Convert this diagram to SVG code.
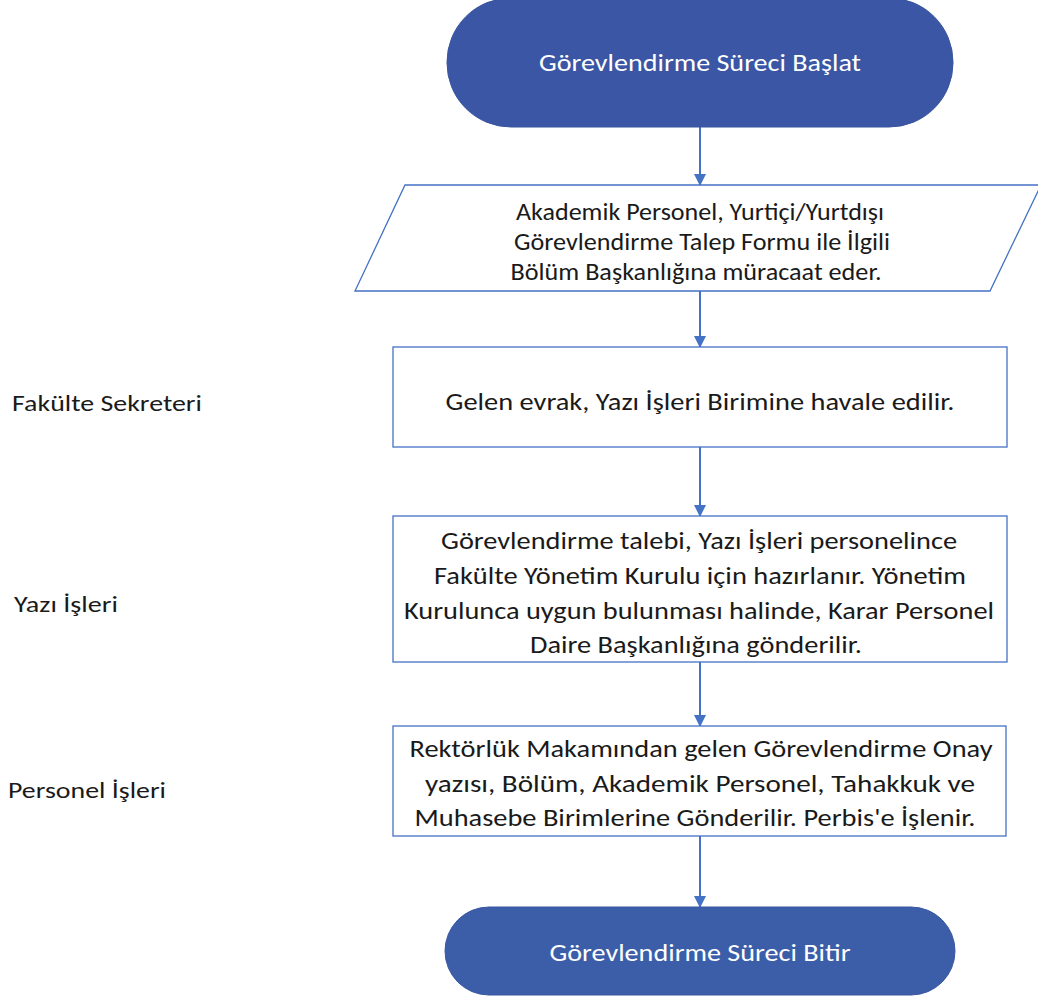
<svg xmlns="http://www.w3.org/2000/svg" width="1038" height="1001" viewBox="0 0 1038 1001">
  <defs>
    <marker id="ah" markerWidth="12" markerHeight="12" refX="11" refY="6" orient="auto" markerUnits="userSpaceOnUse">
      <path d="M0,0 L12,6 L0,12 Z" fill="#4472C4"/>
    </marker>
  </defs>
  <style>
    .term { stroke: #3A55A0; stroke-width: 1; }
    .box { fill: #FFFFFF; stroke: #4472C4; stroke-width: 1.3; }
    .t { font-family: "Carlito", "Lato", "Liberation Sans", sans-serif; font-size: 24px; fill: #1A1A1A; text-anchor: middle; dominant-baseline: central; }
    .tw { fill: #FFFFFF; }
    .lbl { font-family: "Carlito", "Lato", "Liberation Sans", sans-serif; font-size: 23px; fill: #1A1A1A; dominant-baseline: central; }
    .conn { stroke: #4472C4; stroke-width: 2; fill: none; marker-end: url(#ah); }
  </style>
  <rect width="1038" height="1001" fill="#FFFFFF"/>

  <g id="lane-labels">
    <text class="lbl" x="12" y="403" textLength="190" lengthAdjust="spacingAndGlyphs">Fakülte Sekreteri</text>
    <text class="lbl" x="14" y="604" textLength="104" lengthAdjust="spacingAndGlyphs">Yazı İşleri</text>
    <text class="lbl" x="8" y="790" textLength="158" lengthAdjust="spacingAndGlyphs">Personel İşleri</text>
  </g>

  <g id="connectors">
    <line class="conn" x1="700" y1="127" x2="700" y2="185"/>
    <line class="conn" x1="700" y1="291" x2="700" y2="347"/>
    <line class="conn" x1="700" y1="447" x2="700" y2="516"/>
    <line class="conn" x1="700" y1="662" x2="700" y2="726"/>
    <line class="conn" x1="700" y1="836" x2="700" y2="907"/>
  </g>

  <g id="start">
    <rect class="term" x="447" y="-2" width="506" height="129" rx="64" ry="64" fill="#3A56A4"/>
    <text class="t tw" x="700" y="62" textLength="322" lengthAdjust="spacingAndGlyphs">Görevlendirme Süreci Başlat</text>
  </g>

  <g id="input">
    <polygon class="box" points="405,185 1041,185 990,291 355,291"/>
    <text class="t" x="700" y="211" textLength="368" lengthAdjust="spacingAndGlyphs">Akademik Personel, Yurtiçi/Yurtdışı</text>
    <text class="t" x="702" y="241" textLength="376" lengthAdjust="spacingAndGlyphs">Görevlendirme Talep Formu ile İlgili</text>
    <text class="t" x="696" y="271" textLength="371" lengthAdjust="spacingAndGlyphs">Bölüm Başkanlığına müracaat eder.</text>
  </g>

  <g id="step1">
    <rect class="box" x="393" y="347" width="614" height="100"/>
    <text class="t" x="700" y="401" textLength="509" lengthAdjust="spacingAndGlyphs">Gelen evrak, Yazı İşleri Birimine havale edilir.</text>
  </g>

  <g id="step2">
    <rect class="box" x="393" y="516" width="614" height="146"/>
    <text class="t" x="699" y="540" textLength="516" lengthAdjust="spacingAndGlyphs">Görevlendirme talebi, Yazı İşleri personelince</text>
    <text class="t" x="700" y="575" textLength="532" lengthAdjust="spacingAndGlyphs">Fakülte Yönetim Kurulu için hazırlanır. Yönetim</text>
    <text class="t" x="699" y="610" textLength="590" lengthAdjust="spacingAndGlyphs">Kurulunca uygun bulunması halinde, Karar Personel</text>
    <text class="t" x="696" y="644" textLength="332" lengthAdjust="spacingAndGlyphs">Daire Başkanlığına gönderilir.</text>
  </g>

  <g id="step3">
    <rect class="box" x="393" y="726" width="613" height="110"/>
    <text class="t" x="701" y="748" textLength="583" lengthAdjust="spacingAndGlyphs">Rektörlük Makamından gelen Görevlendirme Onay</text>
    <text class="t" x="700" y="783" textLength="550" lengthAdjust="spacingAndGlyphs">yazısı, Bölüm, Akademik Personel, Tahakkuk ve</text>
    <text class="t" x="695" y="817" textLength="561" lengthAdjust="spacingAndGlyphs">Muhasebe Birimlerine Gönderilir. Perbis'e İşlenir.</text>
  </g>

  <g id="end">
    <rect class="term" x="445" y="907" width="510" height="88" rx="44" ry="44" fill="#3C5EA9"/>
    <text class="t tw" x="700" y="952" textLength="301" lengthAdjust="spacingAndGlyphs">Görevlendirme Süreci Bitir</text>
  </g>
</svg>
